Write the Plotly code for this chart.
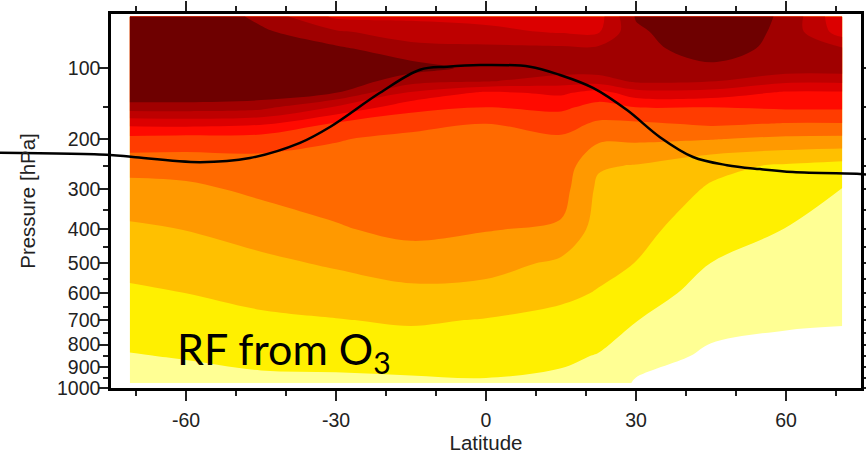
import numpy as np
import plotly.graph_objects as go

# ---------------- data ----------------
lat_nodes = [-71.25, -60, -45, -30, -15, 0, 15, 22.5, 30, 45, 60, 71.25]
p_nodes = [53, 65, 80, 100, 115, 130, 150, 175, 200, 250, 300, 400, 500, 600, 700, 850, 975]

# estimated contour-level value (band index) at each pressure node, one list per latitude
rf_lat_m71 = [11.6, 11.6, 11.5, 11.5, 11.5, 11.4, 10.0, 7.75, 6.19, 4.85, 4.17, 3.33, 2.80, 2.34, 1.96, 1.45, 1.10]
rf_lat_m60 = [11.6, 11.6, 11.5, 11.5, 11.5, 11.4, 10.0, 7.83, 6.07, 4.90, 4.29, 3.52, 2.98, 2.50, 2.10, 1.56, 1.15]
rf_lat_m45 = [10.2, 10.7, 11.3, 11.4, 11.4, 11.2, 9.8, 7.63, 6.03, 5.05, 4.71, 3.92, 3.28, 2.78, 2.33, 1.73, 1.30]
rf_lat_m30 = [8.3, 9.63, 10.7, 11.3, 11.2, 10.5, 8.36, 6.34, 5.55, 5.2, 4.92, 4.41, 3.62, 3.0, 2.46, 1.80, 1.30]
rf_lat_m15 = [8.3, 9.0, 9.83, 10.9, 9.94, 8.33, 6.86, 5.75, 5.3, 5.1, 4.95, 4.75, 4.01, 3.24, 2.62, 1.89, 1.35]
rf_lat_0 = [8.2, 8.74, 9.75, 10.2, 9.6, 7.32, 6.5, 5.49, 5.3, 5.1, 4.9, 4.55, 3.88, 3.15, 2.45, 1.86, 1.42]
rf_lat_15 = [8.0, 8.4, 9.7, 10.1, 9.0, 7.68, 6.7, 5.9, 5.35, 5.1, 4.9, 4.36, 3.3, 2.7, 2.23, 1.67, 1.30]
rf_lat_22 = [8.1, 8.4, 9.7, 10.1, 9.0, 7.08, 6.15, 5.33, 4.67, 3.6, 3.3, 3.08, 2.75, 2.44, 2.0, 1.45, 1.20]
rf_lat_30 = [10.6, 10.3, 10.1, 10.0, 9.7, 8.07, 6.5, 5.33, 4.67, 3.45, 3.22, 2.82, 2.48, 1.98, 1.53, 0.89, 0.40]
rf_lat_45 = [11.5, 11.4, 11.1, 10.25, 9.6, 8.07, 6.5, 5.65, 4.55, 2.75, 2.39, 1.9, 1.49, 1.11, 0.77, 0.35, 0.20]
rf_lat_60 = [10.3, 10.2, 10.1, 10.1, 8.75, 7.35, 6.65, 5.43, 4.3, 2.38, 2.04, 1.48, 1.14, 0.84, 0.58, 0.30, 0.20]
rf_lat_71 = [7.7, 8.0, 9.6, 10.1, 8.75, 7.35, 6.65, 5.43, 4.25, 2.15, 1.47, 1.19, 0.94, 0.73, 0.54, 0.30, 0.20]

level_colors = ["#FFFFFF", "#FFFF94", "#FFF000", "#FFC000", "#FF9900", "#FF6A00",
                "#FF3C00", "#FF0A00", "#DC0000", "#BE0000", "#A00000", "#6E0000"]

# tropopause line
trop_lat = [-97.2, -75.2, -70.6, -57.2, -47.2, -37.2, -31.2, -21.2, -13.2, -7.8, -1.2,
            8.8, 14.8, 21.4, 28.2, 34.8, 41.4, 48.2, 54.8, 61.4, 74.8, 76.0]
trop_p = [225, 229, 233, 243, 235, 207, 180, 130, 102, 98.6, 96.7,
          98.6, 108, 123.7, 154, 197, 233, 249, 257, 263, 267, 268]

y_tick_p = [100, 200, 300, 400, 500, 600, 700, 800, 900, 1000]
y_minor_p = [50, 150, 250, 350, 450, 550, 650, 750, 850, 950]
x_tick_lat = [-60, -30, 0, 30, 60]
x_minor_lat = [-70, -50, -40, -20, -10, 10, 20, 40, 50, 70]

# ---------------- helpers ----------------
K = 0.35  # vertical axis is scaled as p**K


def ys(p):
    return np.power(np.asarray(p, dtype=float), K)


W, H = 866, 454
PL, PR, PT, PB = 111, 861, 14, 388
xdom = [PL / W, PR / W]
ydom = [(H - PB) / H, (H - PT) / H]

n = len(level_colors)
cs = []
for i, c in enumerate(level_colors):
    cs.append([i / n, c])
    cs.append([(i + 1) / n, c])

z = np.array([rf_lat_m71, rf_lat_m60, rf_lat_m45, rf_lat_m30, rf_lat_m15, rf_lat_0,
              rf_lat_15, rf_lat_22, rf_lat_30, rf_lat_45, rf_lat_60, rf_lat_71]).T

fig = go.Figure()
fig.add_trace(go.Contour(
    x=lat_nodes, y=ys(p_nodes), z=z,
    zauto=False, zmin=-0.75, zmax=11.25,
    colorscale=cs, showscale=False,
    contours=dict(start=0.5, end=10.5, size=1, coloring="fill", showlines=False),
    line=dict(width=0), hoverinfo="skip",
))
fig.add_trace(go.Scatter(
    x=trop_lat, y=ys(trop_p), xaxis="x2", yaxis="y", mode="lines",
    line=dict(color="black", width=2.5, shape="spline"),
    hoverinfo="skip", showlegend=False,
))

tfont = dict(family="Liberation Sans, Arial, sans-serif", size=19.5, color="#222")
afont = dict(family="Liberation Sans, Arial, sans-serif", size=20.5, color="#222")
common = dict(ticks="outside", ticklen=10, tickwidth=1.5, tickcolor="#222",
              showline=True, linecolor="black", linewidth=2.5, mirror="ticks",
              showgrid=False, zeroline=False, automargin=False, fixedrange=True,
              tickfont=tfont)

fig.update_layout(
    width=W, height=H, margin=dict(l=0, r=0, t=0, b=0),
    paper_bgcolor="white", plot_bgcolor="rgba(0,0,0,0)", showlegend=False,
    xaxis=dict(domain=xdom, range=[-75, 75], tickmode="array", tickvals=x_tick_lat,
               ticktext=[str(v) for v in x_tick_lat],
               minor=dict(tickmode="array", tickvals=x_minor_lat, ticks="outside",
                          ticklen=5, tickwidth=1.5, tickcolor="#222"),
               title=dict(text="Latitude", font=afont, standoff=21),
               ticklabelstandoff=3, **common),
    yaxis=dict(domain=ydom, range=[float(ys(1000)), float(ys(51.2))], tickmode="array",
               tickvals=list(ys(y_tick_p)), ticktext=[str(v) for v in y_tick_p],
               minor=dict(tickmode="array", tickvals=list(ys(y_minor_p)), ticks="outside",
                          ticklen=5, tickwidth=1.5, tickcolor="#222"),
               title=dict(text="Pressure [hPa]", font=afont, standoff=16),
               ticklabelstandoff=-6, **common),
    xaxis2=dict(domain=[0, 1], range=[-97.2, 76.0], anchor="y", visible=False,
                fixedrange=True),
)

fig.add_annotation(x=-62.3, y=float(ys(829)), xref="x", yref="y",
                   text="RF from O<sub>3</sub>", showarrow=False,
                   xanchor="left", yanchor="middle",
                   font=dict(family="Lato", size=43, color="black"))

fig.write_html("out.html")
